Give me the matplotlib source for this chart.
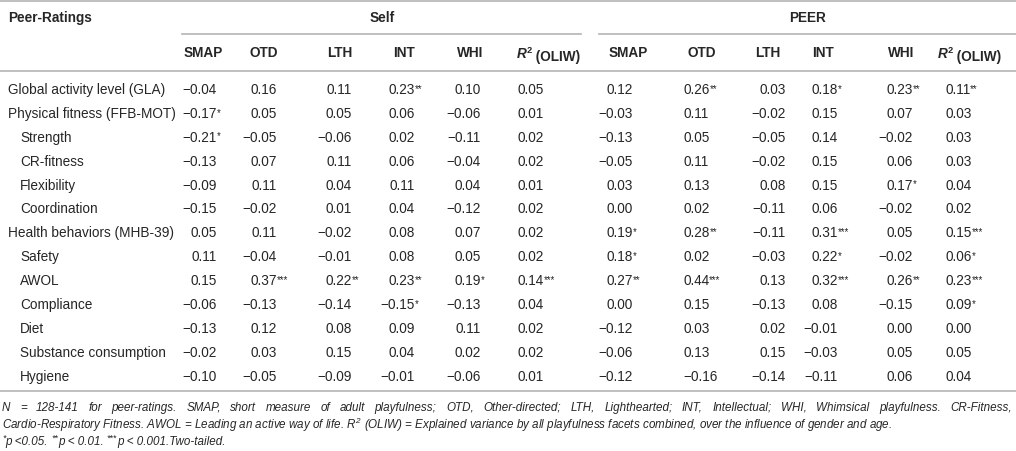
import matplotlib
matplotlib.use("Agg")
import matplotlib.pyplot as plt
from matplotlib import font_manager

# fuentes
installed = {f.name for f in font_manager.fontManager.ttflist}
FONT = "Liberation Sans"
FOOT_FONT = "Liberation Sans Narrow" if "Liberation Sans Narrow" in installed else "Liberation Sans"
plt.rcParams["font.family"] = [FONT, "DejaVu Sans"]
plt.rcParams["mathtext.fontset"] = "custom"
plt.rcParams["mathtext.rm"] = FOOT_FONT + ":italic"
plt.rcParams["mathtext.it"] = FOOT_FONT + ":italic"

# datos de la tabla
row_labels = ["Global activity level (GLA)", "Physical fitness (FFB-MOT)", "Strength", "CR-fitness",
              "Flexibility", "Coordination", "Health behaviors (MHB-39)", "Safety", "AWOL",
              "Compliance", "Diet", "Substance consumption", "Hygiene"]
row_indent = [0, 0, 1, 1, 1, 1, 0, 1, 1, 1, 1, 1, 1]
col_labels = ["SMAP", "OTD", "LTH", "INT", "WHI", "R2"]

self_values = [
    ["-0.04", "0.16", "0.11", "0.23**", "0.10", "0.05"],
    ["-0.17*", "0.05", "0.05", "0.06", "-0.06", "0.01"],
    ["-0.21*", "-0.05", "-0.06", "0.02", "-0.11", "0.02"],
    ["-0.13", "0.07", "0.11", "0.06", "-0.04", "0.02"],
    ["-0.09", "0.11", "0.04", "0.11", "0.04", "0.01"],
    ["-0.15", "-0.02", "0.01", "0.04", "-0.12", "0.02"],
    ["0.05", "0.11", "-0.02", "0.08", "0.07", "0.02"],
    ["0.11", "-0.04", "-0.01", "0.08", "0.05", "0.02"],
    ["0.15", "0.37***", "0.22**", "0.23**", "0.19*", "0.14***"],
    ["-0.06", "-0.13", "-0.14", "-0.15*", "-0.13", "0.04"],
    ["-0.13", "0.12", "0.08", "0.09", "0.11", "0.02"],
    ["-0.02", "0.03", "0.15", "0.04", "0.02", "0.02"],
    ["-0.10", "-0.05", "-0.09", "-0.01", "-0.06", "0.01"],
]
peer_values = [
    ["0.12", "0.26**", "0.03", "0.18*", "0.23**", "0.11**"],
    ["-0.03", "0.11", "-0.02", "0.15", "0.07", "0.03"],
    ["-0.13", "0.05", "-0.05", "0.14", "-0.02", "0.03"],
    ["-0.05", "0.11", "-0.02", "0.15", "0.06", "0.03"],
    ["0.03", "0.13", "0.08", "0.15", "0.17*", "0.04"],
    ["0.00", "0.02", "-0.11", "0.06", "-0.02", "0.02"],
    ["0.19*", "0.28**", "-0.11", "0.31***", "0.05", "0.15***"],
    ["0.18*", "0.02", "-0.03", "0.22*", "-0.02", "0.06*"],
    ["0.27**", "0.44***", "0.13", "0.32***", "0.26**", "0.23***"],
    ["0.00", "0.15", "-0.13", "0.08", "-0.15", "0.09*"],
    ["-0.12", "0.03", "0.02", "-0.01", "0.00", "0.00"],
    ["-0.06", "0.13", "0.15", "-0.03", "0.05", "0.05"],
    ["-0.12", "-0.16", "-0.14", "-0.11", "0.06", "0.04"],
]

foot1 = ("N = 128-141 for peer-ratings. SMAP, short measure of adult playfulness; OTD, Other-directed; "
         "LTH, Lighthearted; INT, Intellectual; WHI, Whimsical playfulness. CR-Fitness,")
foot2 = ("Cardio-Respiratory Fitness. AWOL = Leading an active way of life. $R^2$ (OLIW) = Explained variance "
         "by all playfulness facets combined, over the influence of gender and age.")
foot3 = ["*", "p <0.05. ", "**", "p < 0.01. ", "***", "p < 0.001.Two-tailed."]

# layout (pixeles)
TXT = "#262626"
LINE = "#b4b4b4"
FS = 9.8
# (x header, x ancla, alineacion)
self_cols = [(203, 217, "right"), (264, 277, "right"), (340, 352, "right"),
             (404, 415, "right"), (470, 481, "right"), (517, 518, "left")]
peer_cols = [(628, 633, "right"), (702, 683, "left"), (768, 786, "right"),
             (823, 838, "right"), (901, 913, "right"), (938, 945, "left")]
y_first, y_step = 90, 23.9

fig = plt.figure(figsize=(10.16, 4.52), dpi=100)
ax = fig.add_axes([0, 0, 1, 1])
ax.set_xlim(0, 1016)
ax.set_ylim(452, 0)
ax.axis("off")

# lineas
ax.plot([0, 1016], [2, 2], color=LINE, lw=1.2)
ax.plot([182, 581], [35, 35], color=LINE, lw=1.2)
ax.plot([599, 1016], [35, 35], color=LINE, lw=1.2)
ax.plot([0, 1016], [72, 72], color=LINE, lw=1.2)
ax.plot([0, 1016], [392, 392], color=LINE, lw=1.2)

# encabezados
ax.text(8, 18, "Peer-Ratings", fontsize=FS, fontweight="bold", color=TXT, va="center")
ax.text(382, 18, "Self", fontsize=FS, fontweight="bold", color=TXT, va="center", ha="center")
ax.text(808, 18, "PEER", fontsize=FS, fontweight="bold", color=TXT, va="center", ha="center")

for cols in (self_cols, peer_cols):
    for (xh, xa, al), lab in zip(cols, col_labels):
        if lab == "R2":
            r = ax.text(xh, 57.5, "R", fontsize=FS, fontweight="bold", fontstyle="italic",
                        color=TXT, va="baseline", ha="left")
            two = ax.annotate("2", xy=(1, 1.02), xycoords=r, fontsize=FS * 0.68, fontweight="bold",
                              color=TXT, va="top", ha="left")
            ax.annotate(" (OLIW)", xy=(1, 0), xycoords=(two, r), fontsize=FS, fontweight="bold",
                        color=TXT, va="baseline", ha="left")
        else:
            ax.text(xh, 53, lab, fontsize=FS, fontweight="bold", color=TXT, va="center", ha="center")


def cell(x, y, s, al):
    num = s.rstrip("*").replace("-", "\u2212")
    stars = s[len(s.rstrip("*")):]
    t = ax.text(x, y, num, fontsize=FS, color=TXT, va="center", ha=al)
    if stars:
        ax.annotate(stars, xy=(1, 0.95), xycoords=t, fontsize=FS * 0.7, color=TXT,
                    va="top", ha="left")


for i, lab in enumerate(row_labels):
    y = y_first + i * y_step
    ax.text(8 + 12 * row_indent[i], y, lab, fontsize=FS, color=TXT, va="center")
    for (xh, xa, al), s in zip(self_cols, self_values[i]):
        cell(xa, y, s, al)
    for (xh, xa, al), s in zip(peer_cols, peer_values[i]):
        cell(xa, y, s, al)

# notas al pie
FFS = 8.4
rend = fig.canvas.get_renderer()
words = foot1.split(" ")
arts = []
for w in words:
    arts.append(ax.text(0, 408, w, fontsize=FFS, fontstyle="italic", family=FOOT_FONT,
                        color=TXT, va="center", ha="left"))
widths = [a.get_window_extent(rend).width for a in arts]
gap = (1012 - 2 - sum(widths)) / (len(words) - 1)
x = 2
for a, w in zip(arts, widths):
    a.set_x(x)
    x += w + gap

ax.text(2, 425, foot2, fontsize=FFS, fontstyle="italic", family=FOOT_FONT, color=TXT, va="center")

# ultima linea: asteriscos pequenos en alto
x = 2
for k, part in enumerate(foot3):
    if k % 2 == 0:
        t = ax.text(x, 438, part, fontsize=FFS * 0.75, fontstyle="italic", family=FOOT_FONT,
                    color=TXT, va="center", ha="left")
    else:
        t = ax.text(x, 442, part, fontsize=FFS, fontstyle="italic", family=FOOT_FONT,
                    color=TXT, va="center", ha="left")
    x += t.get_window_extent(rend).width

fig.savefig("out.png", dpi=100, facecolor="white")
